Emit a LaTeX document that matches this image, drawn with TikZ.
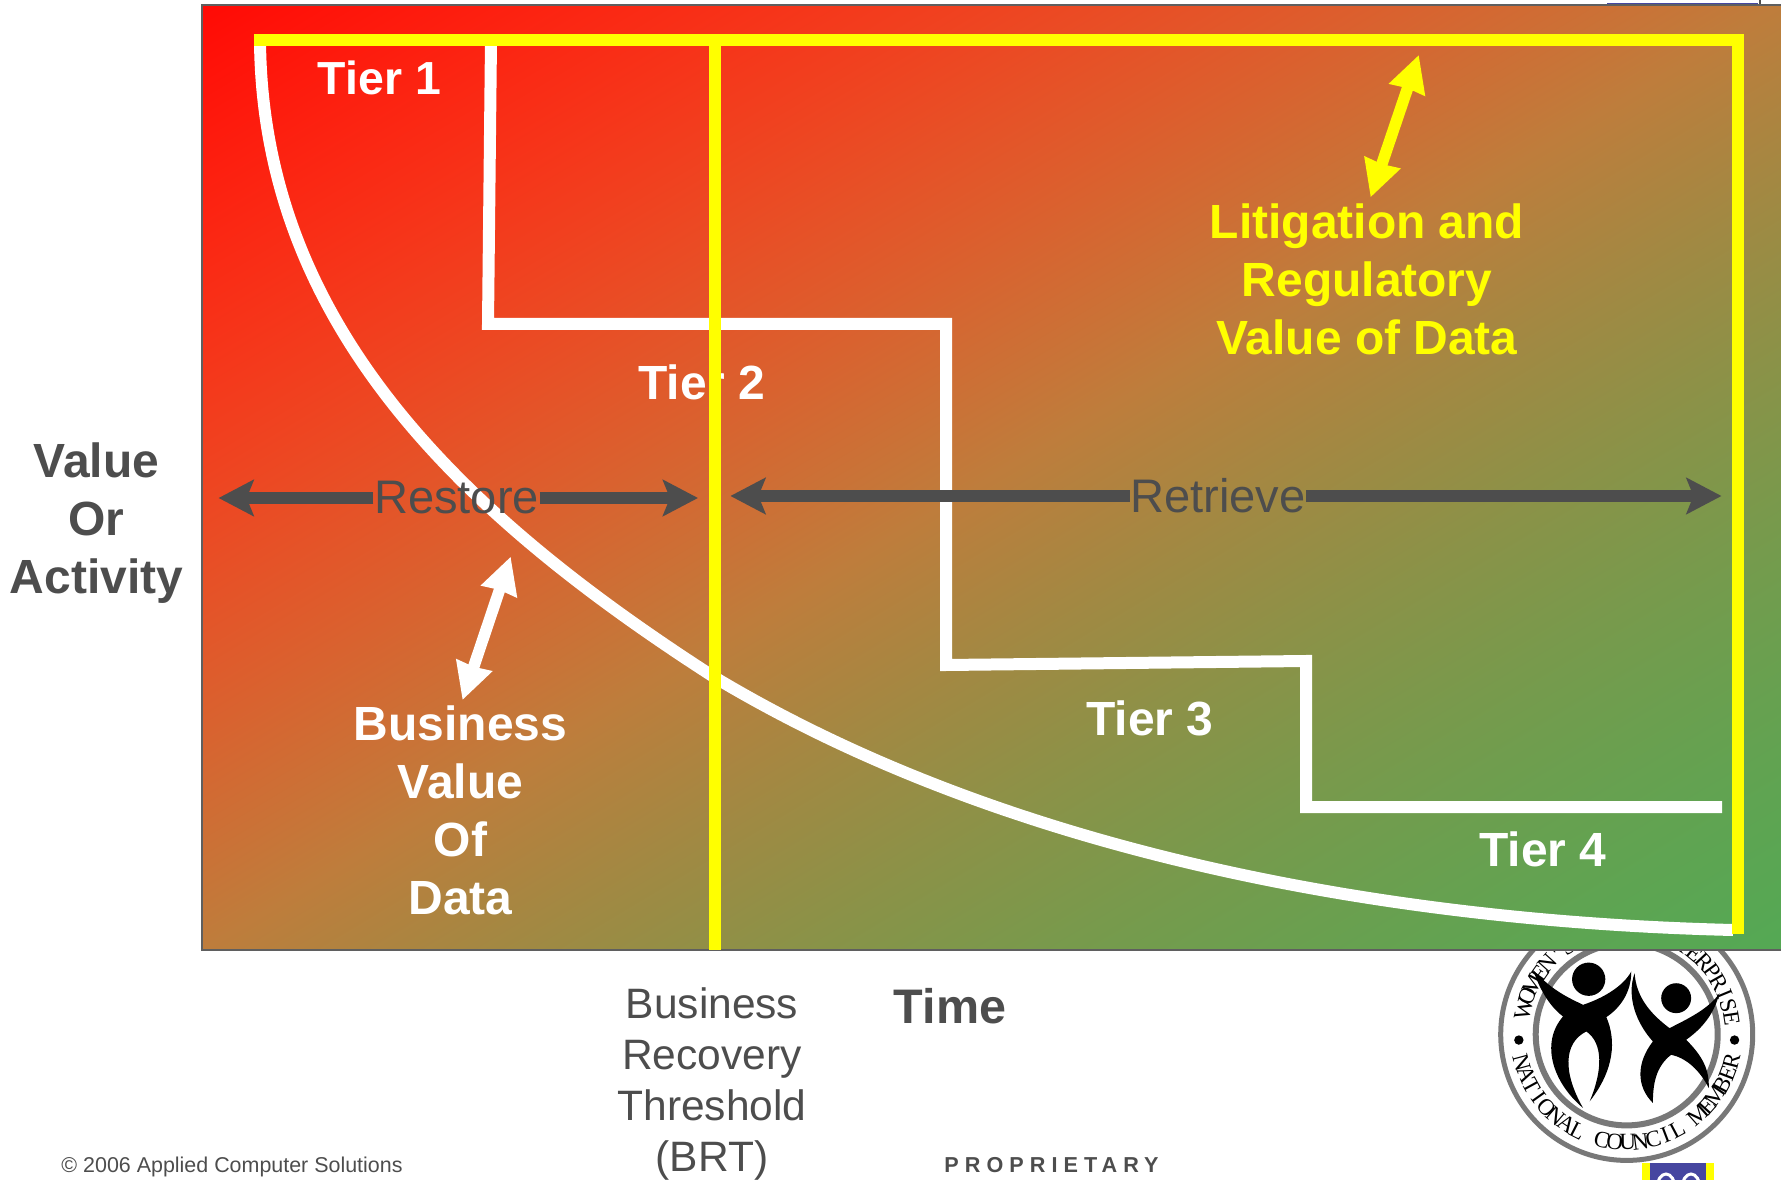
\documentclass[tikz,border=0pt]{standalone}
\usepackage{fontspec}
\usepackage{tikz}
\usetikzlibrary{arrows.meta}
\setmainfont{Liberation Sans}
\newfontfamily\logofont{Liberation Serif}
\newfontfamily\spacedfont[LetterSpace=28]{Liberation Sans}

\definecolor{darkgrey}{RGB}{77,77,77}
\definecolor{ringgrey}{RGB}{120,120,120}
\definecolor{badgeblue}{RGB}{70,70,160}
\definecolor{framey}{RGB}{255,255,0}

\pgfdeclarefunctionalshading{panelshade}{\pgfpoint{25bp}{25bp}}{\pgfpoint{75bp}{75bp}}{}{
    exch 25 sub exch 75 exch sub add 50 div
    dup 1 lt {
        dup dup mul -0.255 mul 1 add exch dup 0.45 mul 0.04 add exch 0.215 mul 0.02 add
    }{
        1 sub dup 0.5 mul 1.5 exch sub mul
        dup -0.415 mul 0.745 add exch dup 0.17 mul 0.49 add exch 0.095 mul 0.235 add
    } ifelse
}

\tikzset{
    bigtext/.style={inner sep=0pt, align=center, font=\fontsize{13.4}{16.5}\selectfont},
    boldtext/.style={bigtext, font=\fontsize{13.65}{16.5}\selectfont\bfseries},
    yellowline/.style={framey, line width=0.12cm},
    whiteline/.style={white, line width=0.12cm},
    spanarrow/.style={darkgrey, line width=0.115cm, -{Stealth[length=0.35cm, width=0.36cm, inset=0.07cm]}},
    gaparrow/.style={line width=0.115cm, {Stealth[length=0.36cm, width=0.36cm, inset=0.01cm]}-{Stealth[length=0.36cm, width=0.36cm, inset=0.01cm]}},
    ringletter/.style={inner sep=0pt, font=\logofont\fontsize{6.6}{7}\selectfont}
}

\begin{document}
\begin{tikzpicture}
    \useasboundingbox (0,0) rectangle (17.81,11.80);

    \coordinate (logo) at (16.267,1.456);

    % fragments of what lies behind
    \fill[badgeblue] (16.07,11.77) rectangle (17.58,11.74);
    \draw[darkgrey, line width=0.02cm] (17.60,11.80) -- (17.60,11.75);
    \fill[framey] (16.417,0) rectangle (17.14,0.17);
    \fill[badgeblue] (16.50,0) rectangle (17.06,0.17);
    \begin{scope}
        \clip (16.50,0) rectangle (17.06,0.17);
        \foreach \x in {16.66, 16.91} {
            \draw[white, line width=0.03cm] (\x,-0.08) ellipse (0.09 and 0.14);
        }
    \end{scope}

    % logo
    \draw[ringgrey, line width=0.05cm] (logo) circle (1.26);
    \draw[ringgrey, line width=0.06cm] (logo) circle (0.91);
    \foreach \a in {183, 357} {
        \fill (logo) ++(\a:1.08) circle (0.047);
    }
    \foreach \c [count=\i from 0, evaluate=\i as \a using 195+6.86*\i] in {N,A,T,I,O,N,A,L,{},C,O,U,N,C,I,L,{},M,E,M,B,E,R} {
        \path (logo) ++(\a:1.08) node[ringletter, rotate=\a+90] (bottom\i) {\c};
    }
    \foreach \c [count=\i from 0, evaluate=\i as \a using 166-7*\i] in {W,O,M,E,N,',S} {
        \path (logo) ++(\a:1.06) node[ringletter, rotate=\a-90] (left\i) {\c};
    }
    \foreach \c [count=\i from 0, evaluate=\i as \a using 57-6.9*\i] in {T,E,R,P,R,I,S,E} {
        \path (logo) ++(\a:1.06) node[ringletter, rotate=\a-90] (right\i) {\c};
    }
    \begin{scope}[shift={(14.40,2.50)}, x=0.003333cm, y=-0.003333cm]
        \fill (447,148) circle (50);
        \fill (710,205) circle (45);
        \fill (280,120) .. controls (340,185) and (390,205) .. (430,225)
            .. controls (490,205) and (550,170) .. (575,125)
            .. controls (575,190) and (540,235) .. (500,262)
            .. controls (530,330) and (525,420) .. (450,515)
            .. controls (490,420) and (490,340) .. (440,305)
            .. controls (370,340) and (370,430) .. (430,535)
            .. controls (340,460) and (300,340) .. (370,260)
            .. controls (330,230) and (300,180) .. (280,120) -- cycle;
        \fill (585,130) .. controls (590,200) and (630,250) .. (690,295)
            .. controls (750,265) and (810,235) .. (840,190)
            .. controls (825,250) and (790,295) .. (740,330)
            .. controls (790,380) and (810,420) .. (808,475)
            .. controls (780,420) and (740,385) .. (695,375)
            .. controls (650,410) and (640,460) .. (640,520)
            .. controls (590,470) and (590,400) .. (640,335)
            .. controls (590,280) and (560,200) .. (585,130) -- cycle;
    \end{scope}

    % panel
    \coordinate (p1) at (2.02,2.30);
    \coordinate (p2) at (17.81,11.745);
    \shade[shading=panelshade] (p1) rectangle (p2);
    \draw[darkgrey!90, line width=0.02cm] (17.81,2.30) -- (p1) -- (2.02,11.745) -- (p2);

    % value curve and tiers
    \coordinate (c0) at (2.60,11.40);
    \coordinate (c1) at (7.14,5.03);
    \coordinate (c2) at (17.33,2.50);
    \draw[whiteline] (c0) .. controls (2.62,8.50) and (4.70,6.60) .. (c1)
        .. controls (10.14,3.23) and (14.00,2.58) .. (c2);

    \coordinate (s0) at (4.91,11.40);
    \coordinate (s1) at (4.88,8.56);
    \coordinate (s2) at (9.46,8.56);
    \coordinate (s3) at (9.46,5.15);
    \coordinate (s4) at (13.06,5.19);
    \coordinate (s5) at (13.06,3.73);
    \coordinate (s6) at (17.22,3.73);
    \draw[whiteline] (s0) -- (s1) -- (s2) -- (s3) -- (s4) -- (s5) -- (s6);

    \node[boldtext, white, font=\fontsize{13.2}{16.5}\selectfont\bfseries] (tier1) at (3.794,11.02) {Tier 1};
    \node[boldtext, white] (tier2) at (7.02,7.98) {Tier 2};
    \node[boldtext, white] (tier3) at (11.50,4.62) {Tier 3};
    \node[boldtext, white] (tier4) at (15.43,3.31) {Tier 4};

    % yellow frame
    \coordinate (y0) at (2.54,11.40);
    \coordinate (y1) at (17.38,11.40);
    \coordinate (y2) at (17.38,2.46);
    \coordinate (b0) at (7.145,11.40);
    \coordinate (b1) at (7.145,2.30);
    \draw[yellowline] (b0) -- (b1);
    \draw[yellowline] (y0) -- (y1) -- (y2);

    % spans
    \node[bigtext, darkgrey] (restore) at (4.565,6.82) {Restore};
    \node[bigtext, darkgrey] (retrieve) at (12.18,6.84) {Retrieve};
    \coordinate (r0) at (2.186,6.82);
    \coordinate (r1) at (6.98,6.82);
    \coordinate (r2) at (7.304,6.84);
    \coordinate (r3) at (17.215,6.84);
    \draw[spanarrow] (restore.west |- r0) -- (r0);
    \draw[spanarrow] (restore.east |- r1) -- (r1);
    \draw[spanarrow] (retrieve.west) -- (r2);
    \draw[spanarrow] (retrieve.east) -- (r3);

    % gap arrows
    \coordinate (w0) at (5.107,6.233);
    \coordinate (w1) at (4.625,4.80);
    \coordinate (g0) at (14.188,11.25);
    \coordinate (g1) at (13.706,9.827);
    \draw[gaparrow, white] (w0) -- (w1);
    \draw[gaparrow, framey] (g0) -- (g1);

    % labels
    \node[boldtext, white] (business) at (4.605,3.70) {Business\\Value\\Of\\Data};
    \node[boldtext, framey] (litigation) at (13.67,9.01) {Litigation and\\Regulatory\\Value of Data};
    \node[boldtext, darkgrey] (value) at (0.965,6.57) {Value\\Or\\Activity};
    \node[boldtext, darkgrey, font=\fontsize{13.8}{16.5}\selectfont\bfseries] (time) at (9.50,1.74) {Time};
    \node[bigtext, darkgrey, font=\fontsize{12.1}{14.5}\selectfont] (brt) at (7.12,0.96) {Business\\Recovery\\Threshold\\(BRT)};
    \node[inner sep=0pt, darkgrey, font=\fontsize{6.1}{7}\selectfont] (copyright) at (2.32,0.134) {© 2006 Applied Computer Solutions};
    \node[inner sep=0pt, darkgrey, font=\spacedfont\fontsize{6.15}{7}\selectfont\bfseries] (proprietary) at (10.515,0.145) {PROPRIETARY};
\end{tikzpicture}
\end{document}
